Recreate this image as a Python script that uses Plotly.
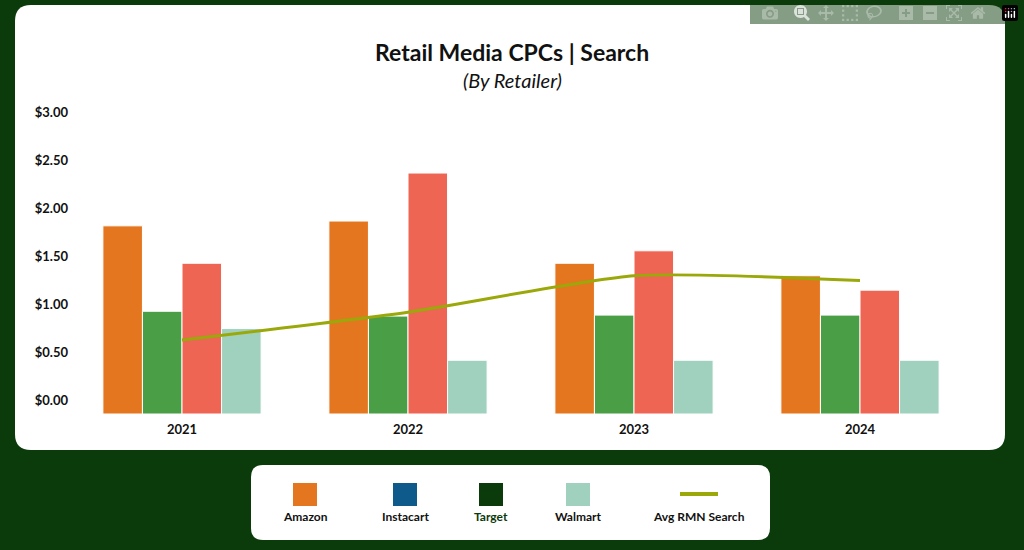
import plotly.graph_objects as go

years = ["2021", "2022", "2023", "2024"]
amazon = [1.96, 2.01, 1.57, 1.44]
target = [1.07, 1.02, 1.03, 1.03]
instacart = [1.57, 2.51, 1.70, 1.29]
walmart = [0.89, 0.56, 0.56, 0.56]
avg_rmn = [0.77, 1.06, 1.44, 1.39]

W, H = 1024, 550
L, R, T, B = 69, 973, 126, 414
BG = "#0b3a0b"

def px(x):
    return (x - L) / (R - L)

def py(y):
    return (B - y) / (B - T)

def rrect(x0, y0, x1, y1, r):
    a, b, c, d = px(x0), px(x1), py(y0), py(y1)
    rx, ry = r / (R - L), r / (B - T)
    return (f"M {a+rx},{c} L {b-rx},{c} Q {b},{c} {b},{c-ry} L {b},{d+ry} Q {b},{d} {b-rx},{d} "
            f"L {a+rx},{d} Q {a},{d} {a},{d+ry} L {a},{c-ry} Q {a},{c} {a+rx},{c} Z")

fig = go.Figure()
fig.add_trace(go.Bar(x=years, y=amazon, marker_color="#e57620", name="Amazon"))
fig.add_trace(go.Bar(x=years, y=target, marker_color="#4a9e45", name="Target"))
fig.add_trace(go.Bar(x=years, y=instacart, marker_color="#ee6554", name="Instacart"))
fig.add_trace(go.Bar(x=years, y=walmart, marker_color="#a0d1be", name="Walmart"))
fig.add_trace(go.Scatter(x=years, y=avg_rmn, mode="lines", line=dict(color="#9aa80a", width=3, shape="spline", smoothing=0.6), name="Avg RMN Search"))
for t in fig.data[:4]:
    t.marker.line = dict(color="white", width=1)

shapes = [
    dict(type="path", path=rrect(15, 5, 1005, 450, 16), xref="paper", yref="paper", fillcolor="white", line_width=0, layer="below"),
    dict(type="path", path=rrect(251, 465, 770, 540, 12), xref="paper", yref="paper", fillcolor="white", line_width=0, layer="below"),
]
ann = [
    dict(text="<b>Retail Media CPCs | Search</b>", x=px(512), y=py(52), font=dict(size=23, color="#111")),
    dict(text="<i>(By Retailer)</i>", x=px(512), y=py(80), font=dict(size=20, color="#111")),
]
leg = [("Amazon", 305, "#e57620", "#111"), ("Instacart", 405, "#0e5a8a", "#111"),
       ("Target", 491, "#0b3a0b", "#0b3a0b"), ("Walmart", 578, "#a0d1be", "#111")]
for name, cx, col, tc in leg:
    shapes.append(dict(type="rect", xref="paper", yref="paper", x0=px(cx - 12), x1=px(cx + 12),
                       y0=py(483), y1=py(506), fillcolor=col, line_width=0))
    ann.append(dict(text=f"<b>{name}</b>", x=px(cx), y=py(516), font=dict(size=12, color=tc)))
shapes.append(dict(type="line", xref="paper", yref="paper", x0=px(680), x1=px(718), y0=py(494), y1=py(494),
                   line=dict(color="#9aa80a", width=4)))
ann.append(dict(text="<b>Avg RMN Search</b>", x=px(699), y=py(516), font=dict(size=12, color="#111")))
for a in ann:
    a.update(xref="paper", yref="paper", showarrow=False, xanchor="center", yanchor="middle")

fig.update_layout(
    width=W, height=H, margin=dict(l=L, r=W - R, t=T, b=H - B),
    paper_bgcolor=BG, plot_bgcolor="white", showlegend=False,
    barmode="group", bargap=0.3, bargroupgap=0,
    font=dict(family="Lato, Open Sans, sans-serif", color="#111"),
    shapes=shapes, annotations=ann,
)
fig.update_xaxes(showgrid=False, showline=False, ticks="", tickfont=dict(size=13, weight="bold"), ticklabelstandoff=6)
fig.update_yaxes(range=[0, 3.0], tickvals=[0, 0.5, 1, 1.5, 2, 2.5, 3], tickformat="$.2f", showgrid=False,
                 zeroline=False, showline=False, ticks="", ticklabelshift=-14, ticklabelstandoff=0,
                 tickfont=dict(size=13, weight="bold"))
fig.write_html("out.html", post_script=["document.body.style.margin='0';"])
